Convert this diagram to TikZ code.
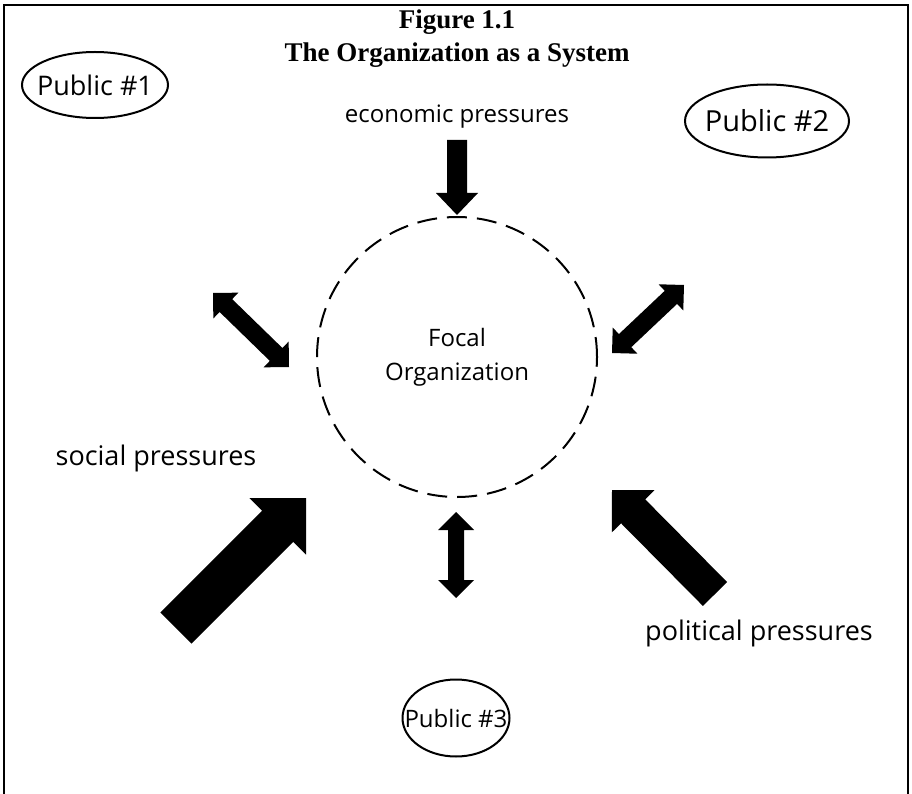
\documentclass[tikz,border=0pt]{standalone}
\usepackage{fontspec}
\setmainfont{Liberation Serif}
\newfontfamily\handfont{Open Sans}
\usetikzlibrary{shapes.geometric, calc, positioning}

% block arrow: tail, tip, half shaft, half head, head length
\newcommand{\blockarrow}[5]{%
  \coordinate (bah) at ($(#2)!#5!(#1)$);
  \fill ($(#1)!#3!90:(#2)$) -- ($(bah)!#3!-90:(#1)$) -- ($(bah)!#4!-90:(#1)$)
    -- (#2) -- ($(bah)!#4!90:(#1)$) -- ($(bah)!#3!90:(#1)$) -- ($(#1)!#3!-90:(#2)$) -- cycle;}
% same with a head at both ends
\newcommand{\blockdarrow}[5]{%
  \coordinate (bah) at ($(#2)!#5!(#1)$);
  \coordinate (bat) at ($(#1)!#5!(#2)$);
  \fill (#1) -- ($(bat)!#4!90:(#2)$) -- ($(bat)!#3!90:(#2)$) -- ($(bah)!#3!-90:(#1)$)
    -- ($(bah)!#4!-90:(#1)$) -- (#2) -- ($(bah)!#4!90:(#1)$) -- ($(bah)!#3!90:(#1)$)
    -- ($(bat)!#3!-90:(#2)$) -- ($(bat)!#4!-90:(#2)$) -- cycle;}

\begin{document}
\begin{tikzpicture}[x=1pt, y=-1pt,
  public/.style={ellipse, draw, line width=2pt, inner sep=0pt},
  focal/.style={circle, draw, line width=2pt, dash pattern=on 20pt off 10pt, minimum size=280pt, align=center, font=\handfont\fontsize{24}{34}\selectfont},
  pressure/.style={font=\handfont\fontsize{27}{30}\selectfont}
]
  \useasboundingbox (0,0) rectangle (912,794);
  \draw[line width=2.5pt] (4,800) -- (4,5) -- (908,5) -- (908,800);

  \node[font=\bfseries\fontsize{27}{33}\selectfont, align=center] (title) at (457,39) {Figure 1.1\\The Organization as a System};

  \node[focal] (org) at (457,357) {Focal\\Organization};
  \node[public, minimum width=146pt, minimum height=66pt, font=\handfont\fontsize{27}{30}\selectfont] (pub1) at (95,85) {\makebox[0pt]{Public \#1}};
  \node[public, minimum width=164pt, minimum height=73pt, font=\handfont\fontsize{29}{32}\selectfont] (pub2) at (767,121) {\makebox[0pt]{Public \#2}};
  \node[public, minimum width=107pt, minimum height=77pt, font=\handfont\fontsize{24}{28}\selectfont] (pub3) at (456,718) {\makebox[0pt]{Public \#3}};

  \node[pressure, font=\handfont\fontsize{24}{28}\selectfont] (econ) at (457,117) {economic pressures};
  \node[pressure] (social) at (156,458) {social pressures};
  \node[pressure] (polit) at (759,633) {political pressures};

  % arrow ends
  \coordinate (econ-a) at (457,140);  \coordinate (econ-b) at (457,215);
  \coordinate (p1-a) at (213,293);    \coordinate (p1-b) at (289,367);
  \coordinate (p2-a) at (612,353);    \coordinate (p2-b) at (684,285);
  \coordinate (p3-a) at (456,512);    \coordinate (p3-b) at (456,598);
  \coordinate (soc-a) at (176,628);   \coordinate (soc-b) at (306,498);
  \coordinate (pol-a) at (715,594);   \coordinate (pol-b) at (612,490);

  \blockarrow{econ-a}{econ-b}{10pt}{21pt}{22pt}
  \blockdarrow{p1-a}{p1-b}{9pt}{18pt}{18pt}
  \blockdarrow{p2-a}{p2-b}{9pt}{18pt}{18pt}
  \blockdarrow{p3-a}{p3-b}{8pt}{18pt}{18pt}
  \blockarrow{soc-a}{soc-b}{22pt}{40pt}{40pt}
  \blockarrow{pol-a}{pol-b}{17pt}{30pt}{30pt}
\end{tikzpicture}
\end{document}
